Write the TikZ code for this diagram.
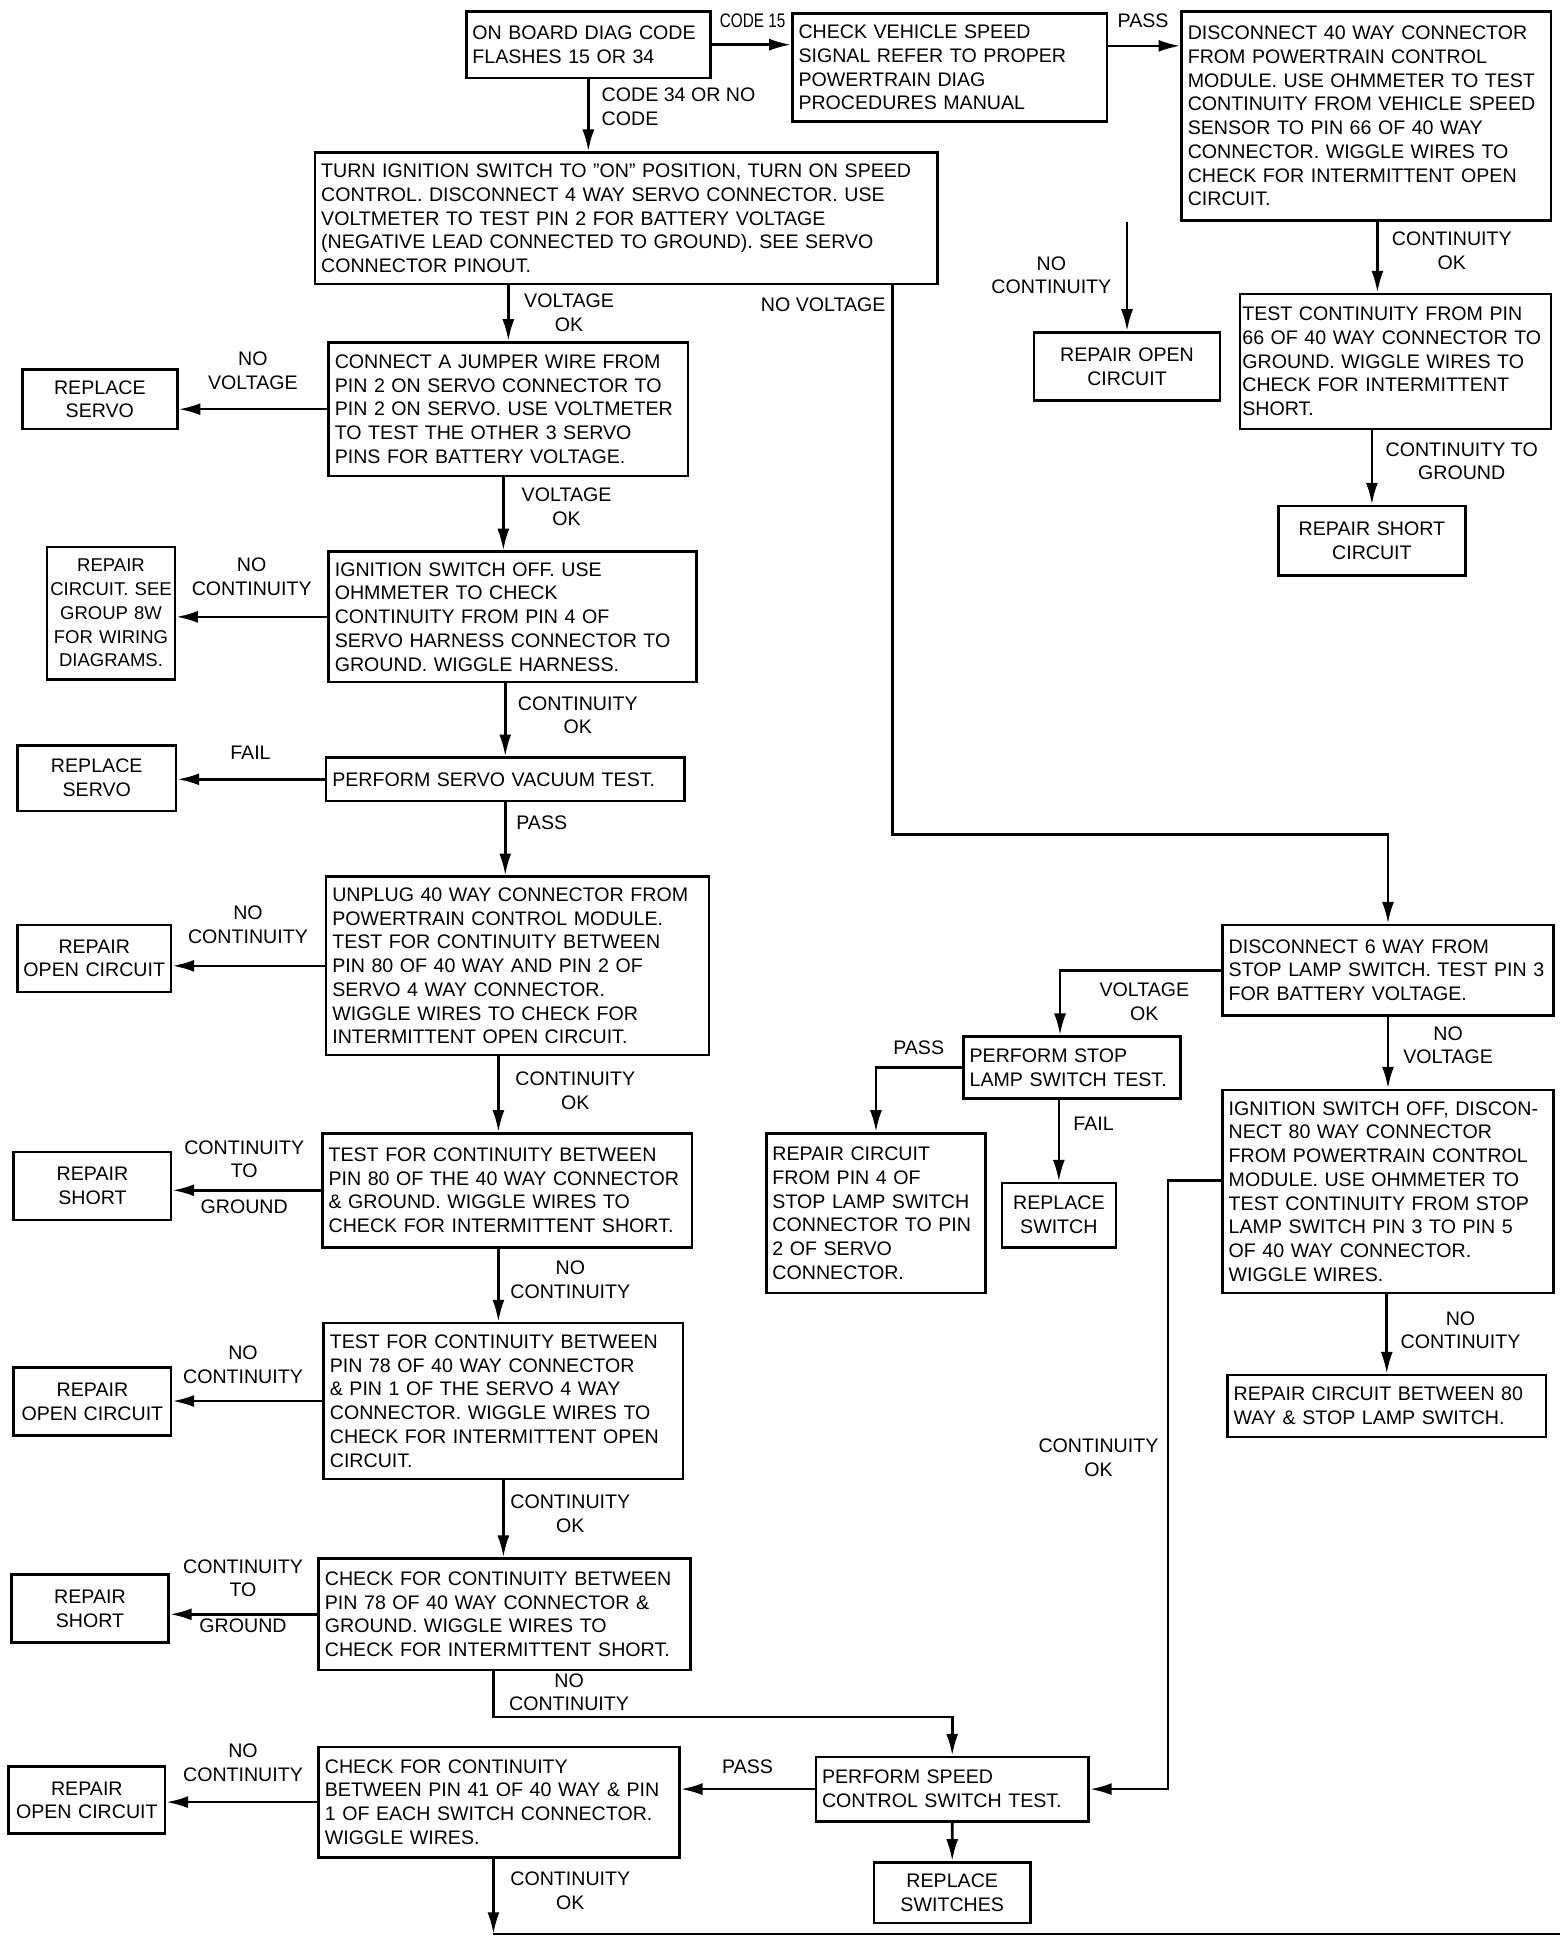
\documentclass[tikz,border=0pt]{standalone}
\usepackage{fontspec}
\setmainfont{Liberation Sans}
\usetikzlibrary{arrows.meta}

\begin{document}
\begin{tikzpicture} [
      x = 0.02cm, y = -0.02cm,
      every node/.style = {font = \fontsize{9}{10.9}\selectfont},
      box/.style = {draw, line width = 1.2pt, anchor = north west, align = left, inner xsep = 0.1cm, inner ysep = 0},
      rep/.style = {box, align = center, inner xsep = 0.03cm},
      lbl/.style = {align = center, inner sep = 0},
      arr/.style = {line width = 1.2pt, -{Latex[length = 10pt, width = 5.5pt]}}
      ]

      \fill [white] (0,0) rectangle (1264,1568);

      % main column
      \node [box, text width = 3.74cm, minimum height = 1.08cm] (diag) at (375,8) {ON BOARD DIAG CODE\\FLASHES 15 OR 34};
      \node [box, text width = 4.88cm, minimum height = 1.74cm] (vss) at (638,10) {CHECK VEHICLE SPEED\\SIGNAL REFER TO PROPER\\POWERTRAIN DIAG\\PROCEDURES MANUAL};
      \node [box, text width = 5.76cm, minimum height = 3.38cm] (pcm) at (952,8) {DISCONNECT 40 WAY CONNECTOR\\FROM POWERTRAIN CONTROL\\MODULE. USE OHMMETER TO TEST\\CONTINUITY FROM VEHICLE SPEED\\SENSOR TO PIN 66 OF 40 WAY\\CONNECTOR. WIGGLE WIRES TO\\CHECK FOR INTERMITTENT OPEN\\CIRCUIT.};
      \node [box, text width = 9.84cm, minimum height = 2.12cm] (ign) at (253,122) {TURN IGNITION SWITCH TO "ON" POSITION, TURN ON SPEED\\CONTROL. DISCONNECT 4 WAY SERVO CONNECTOR. USE\\VOLTMETER TO TEST PIN 2 FOR BATTERY VOLTAGE\\(NEGATIVE LEAD CONNECTED TO GROUND). SEE SERVO\\CONNECTOR PINOUT.};
      \node [rep, text width = 2.94cm, minimum height = 1.10cm] (vssopen) at (833,267) {REPAIR OPEN\\CIRCUIT};
      \node [box, text width = 4.94cm, minimum height = 2.18cm, inner xsep = 0.04cm] (vssgnd) at (999,236) {TEST CONTINUITY FROM PIN\\66 OF 40 WAY CONNECTOR TO\\GROUND. WIGGLE WIRES TO\\CHECK FOR INTERMITTENT\\SHORT.};
      \node [rep, text width = 2.96cm, minimum height = 1.12cm] (vssshort) at (1030,407) {REPAIR SHORT\\CIRCUIT};
      \node [box, text width = 5.60cm, minimum height = 2.16cm] (jump) at (264,275) {CONNECT A JUMPER WIRE FROM\\PIN 2 ON SERVO CONNECTOR TO\\PIN 2 ON SERVO. USE VOLTMETER\\TO TEST THE OTHER 3 SERVO\\PINS FOR BATTERY VOLTAGE.};
      \node [rep, text width = 2.44cm, minimum height = 0.96cm] (servoa) at (17,297) {REPLACE\\SERVO};
      \node [box, text width = 5.74cm, minimum height = 2.10cm] (harn) at (264,444) {IGNITION SWITCH OFF. USE\\OHMMETER TO CHECK\\CONTINUITY FROM PIN 4 OF\\SERVO HARNESS CONNECTOR TO\\GROUND. WIGGLE HARNESS.};
      \node [rep, text width = 2.02cm, minimum height = 2.14cm, inner xsep = 0.02cm, font = \fontsize{8.5}{10.9}\selectfont] (wiring) at (37,440) {REPAIR\\CIRCUIT. SEE\\GROUP 8W\\FOR WIRING\\DIAGRAMS.};
      \node [box, text width = 5.58cm, minimum height = 0.70cm] (vac) at (262,610) {PERFORM SERVO VACUUM TEST.};
      \node [rep, text width = 2.50cm, minimum height = 1.06cm] (servob) at (13,600) {REPLACE\\SERVO};
      \node [box, text width = 5.98cm, minimum height = 2.88cm] (pin80) at (262,706) {UNPLUG 40 WAY CONNECTOR FROM\\POWERTRAIN CONTROL MODULE.\\TEST FOR CONTINUITY BETWEEN\\PIN 80 OF 40 WAY AND PIN 2 OF\\SERVO 4 WAY CONNECTOR.\\WIGGLE WIRES TO CHECK FOR\\INTERMITTENT OPEN CIRCUIT.};
      \node [rep, text width = 2.42cm, minimum height = 1.08cm] (opena) at (13,745) {REPAIR\\OPEN CIRCUIT};
      \node [box, text width = 5.76cm, minimum height = 1.84cm] (pin80gnd) at (259,913) {TEST FOR CONTINUITY BETWEEN\\PIN 80 OF THE 40 WAY CONNECTOR\\\& GROUND. WIGGLE WIRES TO\\CHECK FOR INTERMITTENT SHORT.};
      \node [rep, text width = 2.48cm, minimum height = 1.10cm] (shorta) at (10,928) {REPAIR\\SHORT};
      \node [box, text width = 5.60cm, minimum height = 2.52cm] (pin78) at (260,1066) {TEST FOR CONTINUITY BETWEEN\\PIN 78 OF 40 WAY CONNECTOR\\\& PIN 1 OF THE SERVO 4 WAY\\CONNECTOR. WIGGLE WIRES TO\\CHECK FOR INTERMITTENT OPEN\\CIRCUIT.};
      \node [rep, text width = 2.48cm, minimum height = 1.10cm] (openb) at (10,1102) {REPAIR\\OPEN CIRCUIT};
      \node [box, text width = 5.80cm, minimum height = 1.80cm] (pin78gnd) at (256,1256) {CHECK FOR CONTINUITY BETWEEN\\PIN 78  OF 40 WAY CONNECTOR \&\\GROUND. WIGGLE WIRES TO\\CHECK FOR INTERMITTENT SHORT.};
      \node [rep, text width = 2.48cm, minimum height = 1.10cm] (shortb) at (8,1269) {REPAIR\\SHORT};
      \node [box, text width = 5.62cm, minimum height = 1.78cm] (pin41) at (256,1408) {CHECK FOR CONTINUITY\\BETWEEN PIN 41 OF 40 WAY \& PIN\\1 OF EACH SWITCH CONNECTOR.\\WIGGLE WIRES.};
      \node [rep, text width = 2.46cm, minimum height = 1.08cm] (openc) at (6,1424) {REPAIR\\OPEN CIRCUIT};
      \node [box, text width = 4.20cm, minimum height = 1.04cm] (swtest) at (657,1416) {PERFORM SPEED\\CONTROL SWITCH TEST.};
      \node [rep, text width = 2.46cm, minimum height = 0.98cm] (switches) at (704,1501) {REPLACE\\SWITCHES};

      % stop lamp branch
      \node [box, text width = 5.14cm, minimum height = 1.46cm] (lamp) at (985,745) {DISCONNECT 6 WAY FROM\\STOP LAMP SWITCH. TEST PIN 3\\FOR BATTERY VOLTAGE.};
      \node [box, text width = 3.30cm, minimum height = 1.00cm] (lamptest) at (776,835) {PERFORM STOP\\LAMP SWITCH TEST.};
      \node [box, text width = 3.34cm, minimum height = 2.58cm] (lampcirc) at (617,913) {REPAIR CIRCUIT\\FROM PIN 4 OF\\STOP LAMP SWITCH\\CONNECTOR TO PIN\\2 OF SERVO\\CONNECTOR.};
      \node [rep, text width = 1.78cm, minimum height = 1.04cm] (switch) at (807,953) {REPLACE\\SWITCH};
      \node [box, text width = 5.14cm, minimum height = 3.28cm] (pin3) at (985,878) {IGNITION SWITCH OFF, DISCON-\\NECT 80 WAY CONNECTOR\\FROM POWERTRAIN CONTROL\\MODULE. USE OHMMETER TO\\TEST CONTINUITY FROM STOP\\LAMP SWITCH PIN 3 TO PIN 5\\OF 40 WAY CONNECTOR.\\WIGGLE WIRES.};
      \node [box, text width = 4.94cm, minimum height = 1.00cm] (pin3open) at (989,1108) {REPAIR CIRCUIT BETWEEN 80\\WAY \& STOP LAMP SWITCH.};

      % labels
      \node [lbl] (lcode15) at (607,17) {\scalebox{0.78}[1]{CODE 15}};
      \node [lbl] (lpass1) at (922,17) {PASS};
      \node [lbl, align = left, anchor = west] (lcode34) at (485,86) {CODE 34 OR NO\\CODE};
      \node [lbl] (lnocont1) at (848,222) {NO\\CONTINUITY};
      \node [lbl] (lcontok1) at (1171,202) {CONTINUITY\\OK};
      \node [lbl] (lcontgnd1) at (1179,372) {CONTINUITY TO\\GROUND};
      \node [lbl] (lvoltok1) at (459,252) {VOLTAGE\\OK};
      \node [lbl] (lnovolt1) at (664,246) {NO VOLTAGE};
      \node [lbl] (lnovolt2) at (204,299) {NO\\VOLTAGE};
      \node [lbl] (lvoltok2) at (457,409) {VOLTAGE\\OK};
      \node [lbl] (lnocont2) at (203,465) {NO\\CONTINUITY};
      \node [lbl] (lcontok2) at (466,577) {CONTINUITY\\OK};
      \node [lbl] (lfail1) at (202,607) {FAIL};
      \node [lbl] (lpass2) at (437,664) {PASS};
      \node [lbl] (lnocont3) at (200,746) {NO\\CONTINUITY};
      \node [lbl] (lcontok3) at (464,880) {CONTINUITY\\OK};
      \node [lbl] (lcontto1) at (197,935) {CONTINUITY\\TO};
      \node [lbl] (lgnd1) at (197,973) {GROUND};
      \node [lbl] (lnocont4) at (460,1032) {NO\\CONTINUITY};
      \node [lbl] (lnocont5) at (196,1101) {NO\\CONTINUITY};
      \node [lbl] (lcontok4) at (460,1221) {CONTINUITY\\OK};
      \node [lbl] (lcontto2) at (196,1273) {CONTINUITY\\TO};
      \node [lbl] (lgnd2) at (196,1311) {GROUND};
      \node [lbl] (lnocont6) at (459,1365) {NO\\CONTINUITY};
      \node [lbl] (lpass3) at (603,1425) {PASS};
      \node [lbl] (lnocont7) at (196,1422) {NO\\CONTINUITY};
      \node [lbl] (lcontok5) at (460,1525) {CONTINUITY\\OK};
      \node [lbl] (lvoltok3) at (923,808) {VOLTAGE\\OK};
      \node [lbl] (lnovolt3) at (1168,843) {NO\\VOLTAGE};
      \node [lbl] (lpass4) at (741,845) {PASS};
      \node [lbl] (lfail2) at (882,906) {FAIL};
      \node [lbl] (lnocont8) at (1178,1073) {NO\\CONTINUITY};
      \node [lbl] (lcontok6) at (886,1176) {CONTINUITY\\OK};

      % bends and line ends
      \coordinate (vssx) at (0,37);
      \coordinate (contx) at (1111,0);
      \coordinate (voltx) at (406,0);
      \coordinate (pin80x) at (402,0);
      \coordinate (mainx) at (398,0);
      \coordinate (novoltx) at (720,673);
      \coordinate (lampx) at (855,0);
      \coordinate (contokx) at (942,952);
      \coordinate (endl) at (398,1560);
      \coordinate (endr) at (1258,1560);

      % connectors
      \draw [arr] (diag.east) -- (diag.east -| vss.west);
      \draw [arr] (vss.east |- vssx) -- (pcm.west |- vssx);
      \draw [arr] (diag.south) -- (diag.south |- ign.north);
      \draw [arr] (vssopen.north |- pcm.south) -- (vssopen.north);
      \draw [arr] (contx |- pcm.south) -- (contx |- vssgnd.north);
      \draw [arr] (vssshort.north |- vssgnd.south) -- (vssshort.north);
      \draw [arr] (jump.north |- ign.south) -- (jump.north);
      \draw [arr] (novoltx |- ign.south) -- (novoltx) -| (lamp.north);
      \draw [arr] (jump.west) -- (jump.west -| servoa.east);
      \draw [arr] (voltx |- jump.south) -- (voltx |- harn.north);
      \draw [arr] (harn.west) -- (harn.west -| wiring.east);
      \draw [arr] (vac.north |- harn.south) -- (vac.north);
      \draw [arr] (vac.west) -- (vac.west -| servob.east);
      \draw [arr] (vac.south) -- (vac.south |- pin80.north);
      \draw [arr] (pin80.west) -- (pin80.west -| opena.east);
      \draw [arr] (pin80x |- pin80.south) -- (pin80x |- pin80gnd.north);
      \draw [arr] (pin80gnd.west) -- (pin80gnd.west -| shorta.east);
      \draw [arr] (pin80x |- pin80gnd.south) -- (pin80x |- pin78.north);
      \draw [arr] (pin78.west) -- (pin78.west -| openb.east);
      \draw [arr] (pin78.south) -- (pin78.south |- pin78gnd.north);
      \draw [arr] (pin78gnd.west) -- (pin78gnd.west -| shortb.east);
      \draw [arr] (mainx |- pin78gnd.south) |- (swtest.north |- 0,1385) -- (swtest.north);
      \draw [arr] (swtest.west) -- (swtest.west -| pin41.east);
      \draw [arr] (pin41.west) -- (pin41.west -| openc.east);
      \draw [arr] (mainx |- pin41.south) -- (endl);
      \draw [line width = 1.2pt] (endl) -- (endr);
      \draw [arr] (swtest.south) -- (switches.north);
      \draw [arr] (lamp.west) -| (lampx |- lamptest.north);
      \draw [arr] (lamp.south) -- (lamp.south |- pin3.north);
      \draw [arr] (lamptest.west) -| (lampcirc.north);
      \draw [arr] (switch.north |- lamptest.south) -- (switch.north);
      \draw [arr] (pin3.south -| pin3open.north) -- (pin3open.north);
      \draw [arr] (pin3.west |- contokx) -- (contokx) |- (swtest.east);
    \end{tikzpicture}
\end{document}
